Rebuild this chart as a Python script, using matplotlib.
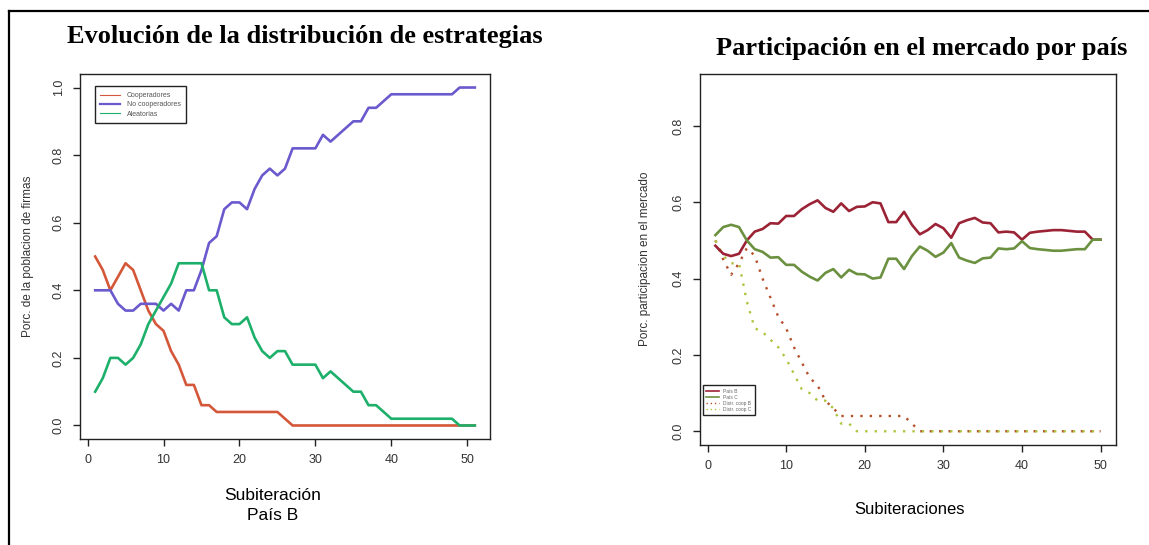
import numpy as np
import matplotlib
matplotlib.use("Agg")
import matplotlib.pyplot as plt
from matplotlib.lines import Line2D

plt.rcParams['font.family'] = ['Liberation Sans', 'DejaVu Sans']

# ---- data: left panel (Pais B, strategy shares) ----
sub_b = list(range(1, 52))
cooperadores = [0.50, 0.46, 0.40, 0.44, 0.48, 0.46, 0.40, 0.34, 0.30, 0.28,
                0.22, 0.18, 0.12, 0.12, 0.06, 0.06, 0.04, 0.04, 0.04, 0.04,
                0.04, 0.04, 0.04, 0.04, 0.04, 0.02, 0.00, 0.00, 0.00, 0.00,
                0.00, 0.00, 0.00, 0.00, 0.00, 0.00, 0.00, 0.00, 0.00, 0.00,
                0.00, 0.00, 0.00, 0.00, 0.00, 0.00, 0.00, 0.00, 0.00, 0.00,
                0.00]
no_cooperadores = [0.40, 0.40, 0.40, 0.36, 0.34, 0.34, 0.36, 0.36, 0.36, 0.34,
                   0.36, 0.34, 0.40, 0.40, 0.46, 0.54, 0.56, 0.64, 0.66, 0.66,
                   0.64, 0.70, 0.74, 0.76, 0.74, 0.76, 0.82, 0.82, 0.82, 0.82,
                   0.86, 0.84, 0.86, 0.88, 0.90, 0.90, 0.94, 0.94, 0.96, 0.98,
                   0.98, 0.98, 0.98, 0.98, 0.98, 0.98, 0.98, 0.98, 1.00, 1.00,
                   1.00]
aleatorias = [0.10, 0.14, 0.20, 0.20, 0.18, 0.20, 0.24, 0.30, 0.34, 0.38,
              0.42, 0.48, 0.48, 0.48, 0.48, 0.40, 0.40, 0.32, 0.30, 0.30,
              0.32, 0.26, 0.22, 0.20, 0.22, 0.22, 0.18, 0.18, 0.18, 0.18,
              0.14, 0.16, 0.14, 0.12, 0.10, 0.10, 0.06, 0.06, 0.04, 0.02,
              0.02, 0.02, 0.02, 0.02, 0.02, 0.02, 0.02, 0.02, 0.00, 0.00,
              0.00]

# ---- data: right panel (market share by country) ----
sub_m = list(range(1, 51))
pais_b = [0.486, 0.465, 0.459, 0.465, 0.500, 0.523, 0.530, 0.545, 0.544, 0.564,
          0.564, 0.582, 0.595, 0.605, 0.585, 0.575, 0.597, 0.577, 0.588, 0.589,
          0.600, 0.597, 0.548, 0.548, 0.575, 0.541, 0.516, 0.527, 0.543, 0.532,
          0.507, 0.545, 0.553, 0.559, 0.547, 0.545, 0.521, 0.523, 0.521, 0.502,
          0.520, 0.523, 0.525, 0.527, 0.527, 0.525, 0.523, 0.523, 0.502, 0.502]
pais_c = [0.514, 0.535, 0.541, 0.535, 0.500, 0.477, 0.470, 0.455, 0.456, 0.436,
          0.436, 0.418, 0.405, 0.395, 0.415, 0.425, 0.403, 0.423, 0.412, 0.411,
          0.400, 0.403, 0.452, 0.452, 0.425, 0.459, 0.484, 0.473, 0.457, 0.468,
          0.493, 0.455, 0.447, 0.441, 0.453, 0.455, 0.479, 0.477, 0.479, 0.498,
          0.480, 0.477, 0.475, 0.473, 0.473, 0.475, 0.477, 0.477, 0.502, 0.502]
distr_coop_b = [0.50, 0.45, 0.41, 0.44, 0.48, 0.46, 0.40, 0.35, 0.30, 0.27,
                0.22, 0.18, 0.14, 0.12, 0.08, 0.06, 0.04, 0.04, 0.04, 0.04,
                0.04, 0.04, 0.04, 0.04, 0.04, 0.02, 0.00, 0.00, 0.00, 0.00,
                0.00, 0.00, 0.00, 0.00, 0.00, 0.00, 0.00, 0.00, 0.00, 0.00,
                0.00, 0.00, 0.00, 0.00, 0.00, 0.00, 0.00, 0.00, 0.00, 0.00]
distr_coop_c = [0.50, 0.46, 0.44, 0.44, 0.34, 0.27, 0.26, 0.24, 0.22, 0.19,
                0.15, 0.11, 0.10, 0.08, 0.08, 0.06, 0.02, 0.02, 0.00, 0.00,
                0.00, 0.00, 0.00, 0.00, 0.00, 0.00, 0.00, 0.00, 0.00, 0.00,
                0.00, 0.00, 0.00, 0.00, 0.00, 0.00, 0.00, 0.00, 0.00, 0.00,
                0.00, 0.00, 0.00, 0.00, 0.00, 0.00, 0.00, 0.00, 0.00, 0.00]

W, H = 1149, 545
fig = plt.figure(figsize=(W / 100, H / 100), dpi=100)


def px_axes(l, t, r, b):
    return [l / W, 1 - b / H, (r - l) / W, (b - t) / H]


def r_style(ax):
    for s in ax.spines.values():
        s.set_linewidth(1.0)
        s.set_color('#222222')
    ax.tick_params(direction='out', length=5, width=1.0, pad=6,
                   labelsize=9, labelcolor='#333333', color='#222222')
    for lab in ax.get_yticklabels():
        lab.set_rotation(90)
        lab.set_va('center')


# left panel
ax1 = fig.add_axes(px_axes(80, 74, 490, 439))
ax1.plot(sub_b, cooperadores, color='#D4573A', lw=1.9)
ax1.plot(sub_b, no_cooperadores, color='#6A5ACD', lw=1.9)
ax1.plot(sub_b, aleatorias, color='#1DB06A', lw=1.9)
ax1.set_xlim(-1, 53)
ax1.set_ylim(-0.04, 1.04)
ax1.set_xticks([0, 10, 20, 30, 40, 50])
ax1.set_yticks([0.0, 0.2, 0.4, 0.6, 0.8, 1.0])
ax1.set_yticklabels(['0.0', '0.2', '0.4', '0.6', '0.8', '1.0'])
r_style(ax1)
h1 = [Line2D([], [], color='#D4573A', lw=0.8),
      Line2D([], [], color='#6A5ACD', lw=1.6),
      Line2D([], [], color='#1DB06A', lw=0.8)]
leg1 = ax1.legend(h1, ['Cooperadores', 'No cooperadores', 'Aleatorias'],
                  loc='upper left', bbox_to_anchor=(0.036, 0.966),
                  borderaxespad=0, fontsize=5, fancybox=False, framealpha=1,
                  edgecolor='#222222', handlelength=2.8, handletextpad=1.0,
                  labelspacing=0.35, borderpad=0.8)
leg1.get_frame().set_linewidth(1.0)
for t in leg1.get_texts():
    t.set_color('#555555')

# right panel
ax2 = fig.add_axes(px_axes(700, 74, 1116, 445))
ax2.plot(sub_m, distr_coop_b, color='#B5502A', lw=1.7, linestyle=(0, (1, 3)))
ax2.plot(sub_m, distr_coop_c, color='#AFC43F', lw=1.7, linestyle=(0, (1, 3)))
ax2.plot(sub_m, pais_b, color='#9B2335', lw=1.9)
ax2.plot(sub_m, pais_c, color='#6B9140', lw=1.9)
ax2.set_xlim(-0.96, 51.96)
ax2.set_ylim(-0.036, 0.936)
ax2.set_xticks([0, 10, 20, 30, 40, 50])
ax2.set_yticks([0.0, 0.2, 0.4, 0.6, 0.8])
ax2.set_yticklabels(['0.0', '0.2', '0.4', '0.6', '0.8'])
r_style(ax2)
h2 = [Line2D([], [], color='#9B2335', lw=1.2),
      Line2D([], [], color='#6B9140', lw=1.2),
      Line2D([], [], color='#B5502A', lw=1.0, linestyle=(0, (1, 2))),
      Line2D([], [], color='#AFC43F', lw=1.0, linestyle=(0, (1, 2)))]
leg2 = ax2.legend(h2, ['País B', 'País C', 'Distr. coop B', 'Distr. coop C'],
                  loc='upper left', bbox_to_anchor=(0.007, 0.161),
                  borderaxespad=0, fontsize=3.5, fancybox=False, framealpha=1,
                  edgecolor='#222222', handlelength=2.6, handletextpad=0.9,
                  labelspacing=0.2, borderpad=0.7)
leg2.get_frame().set_linewidth(1.0)
for t in leg2.get_texts():
    t.set_color('#666666')

# titles and axis labels
fig.text(305 / W, 1 - 37 / H, 'Evolución de la distribución de estrategias',
         family='Liberation Serif', weight='bold', fontsize=19,
         ha='center', va='center')
fig.text(922 / W, 1 - 49 / H, 'Participación en el mercado por país',
         family='Liberation Serif', weight='bold', fontsize=19,
         ha='center', va='center')
fig.text(28 / W, 1 - 256 / H, 'Porc. de la poblacion de firmas',
         rotation=90, fontsize=8.5, color='#333333', ha='center', va='center')
fig.text(645 / W, 1 - 259 / H, 'Porc. participacion en el mercado',
         rotation=90, fontsize=8.5, color='#333333', ha='center', va='center')
fig.text(273 / W, 1 - 495 / H, 'Subiteración', fontsize=12.5,
         ha='center', va='center')
fig.text(273 / W, 1 - 516 / H, 'País B', fontsize=12.5,
         ha='center', va='center')
fig.text(910 / W, 1 - 510 / H, 'Subiteraciones', fontsize=12,
         ha='center', va='center')

# page frame (top and left border lines)
fig.add_artist(Line2D([9 / W, 1], [1 - 10.5 / H, 1 - 10.5 / H],
                      color='black', lw=1.6, transform=fig.transFigure))
fig.add_artist(Line2D([9 / W, 9 / W], [0, 1 - 10.5 / H],
                      color='black', lw=1.6, transform=fig.transFigure))

fig.savefig('out.png', dpi=100)
